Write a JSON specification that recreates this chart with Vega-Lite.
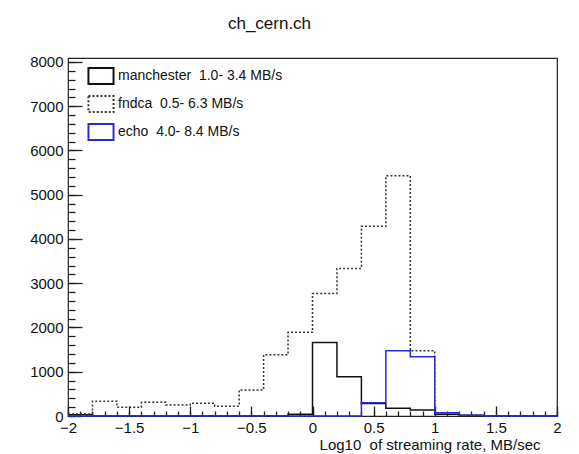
{
  "$schema": "https://vega.github.io/schema/vega-lite/v6.json",
  "width": 489,
  "height": 358,
  "autosize": {"type": "none"},
  "padding": {"left": 68, "top": 58, "right": 22, "bottom": 38},
  "background": "white",
  "title": {"text": "ch_cern.ch", "fontSize": 17, "font": "Liberation Sans", "fontWeight": "normal", "offset": 22, "dx": -43, "color": "#111"},
  "config": {
    "view": {"stroke": "#222", "strokeWidth": 1.2},
    "font": "Liberation Sans",
    "axis": {"domain": false, "grid": false, "labelColor": "#111", "labelFont": "Liberation Sans", "labelFontSize": 15, "labelFlush": false, "labelOverlap": false, "titleFont": "Liberation Sans", "titleFontWeight": "normal", "titleColor": "#111"}
  },
  "data": {"values": [
    {"series": "manchester", "x": -2.0, "count": 30},
    {"series": "manchester", "x": -1.8, "count": 0},
    {"series": "manchester", "x": -1.6, "count": 0},
    {"series": "manchester", "x": -1.4, "count": 0},
    {"series": "manchester", "x": -1.2, "count": 0},
    {"series": "manchester", "x": -1.0, "count": 0},
    {"series": "manchester", "x": -0.8, "count": 0},
    {"series": "manchester", "x": -0.6, "count": 0},
    {"series": "manchester", "x": -0.4, "count": 0},
    {"series": "manchester", "x": -0.2, "count": 40},
    {"series": "manchester", "x": 0.0, "count": 1663},
    {"series": "manchester", "x": 0.2, "count": 885},
    {"series": "manchester", "x": 0.4, "count": 280},
    {"series": "manchester", "x": 0.6, "count": 174},
    {"series": "manchester", "x": 0.8, "count": 136},
    {"series": "manchester", "x": 1.0, "count": 40},
    {"series": "manchester", "x": 1.2, "count": 10},
    {"series": "manchester", "x": 1.4, "count": 0},
    {"series": "manchester", "x": 1.6, "count": 0},
    {"series": "manchester", "x": 1.8, "count": 0},
    {"series": "manchester", "x": 2.0, "count": 0},
    {"series": "fndca", "x": -2.0, "count": 45},
    {"series": "fndca", "x": -1.8, "count": 333},
    {"series": "fndca", "x": -1.6, "count": 197},
    {"series": "fndca", "x": -1.4, "count": 310},
    {"series": "fndca", "x": -1.2, "count": 250},
    {"series": "fndca", "x": -1.0, "count": 288},
    {"series": "fndca", "x": -0.8, "count": 220},
    {"series": "fndca", "x": -0.6, "count": 590},
    {"series": "fndca", "x": -0.4, "count": 1383},
    {"series": "fndca", "x": -0.2, "count": 1890},
    {"series": "fndca", "x": 0.0, "count": 2767},
    {"series": "fndca", "x": 0.2, "count": 3334},
    {"series": "fndca", "x": 0.4, "count": 4287},
    {"series": "fndca", "x": 0.6, "count": 5428},
    {"series": "fndca", "x": 0.8, "count": 1474},
    {"series": "fndca", "x": 1.0, "count": 75},
    {"series": "fndca", "x": 1.2, "count": 25},
    {"series": "fndca", "x": 1.4, "count": 8},
    {"series": "fndca", "x": 1.6, "count": 0},
    {"series": "fndca", "x": 1.8, "count": 0},
    {"series": "fndca", "x": 2.0, "count": 0},
    {"series": "echo", "x": -2.0, "count": 0},
    {"series": "echo", "x": -1.8, "count": 0},
    {"series": "echo", "x": -1.6, "count": 0},
    {"series": "echo", "x": -1.4, "count": 0},
    {"series": "echo", "x": -1.2, "count": 0},
    {"series": "echo", "x": -1.0, "count": 0},
    {"series": "echo", "x": -0.8, "count": 0},
    {"series": "echo", "x": -0.6, "count": 0},
    {"series": "echo", "x": -0.4, "count": 0},
    {"series": "echo", "x": -0.2, "count": 0},
    {"series": "echo", "x": 0.0, "count": 0},
    {"series": "echo", "x": 0.2, "count": 0},
    {"series": "echo", "x": 0.4, "count": 302},
    {"series": "echo", "x": 0.6, "count": 1474},
    {"series": "echo", "x": 0.8, "count": 1338},
    {"series": "echo", "x": 1.0, "count": 75},
    {"series": "echo", "x": 1.2, "count": 15},
    {"series": "echo", "x": 1.4, "count": 0},
    {"series": "echo", "x": 1.6, "count": 0},
    {"series": "echo", "x": 1.8, "count": 0},
    {"series": "echo", "x": 2.0, "count": 0}
  ]},
  "layer": [
    {
      "mark": {"type": "line", "interpolate": "step-after", "strokeWidth": 1.5},
      "encoding": {
        "x": {"field": "x", "type": "quantitative",
          "scale": {"domain": [-2, 2], "nice": false, "zero": false},
          "axis": {"orient": "bottom", "offset": -10, "values": [-2, -1.5, -1, -0.5, 0, 0.5, 1, 1.5, 2], "format": "~g", "ticks": true, "tickColor": "#222222", "tickWidth": 1.3, "tickSize": 10, "labelPadding": 4,
            "title": "Log10\u00a0 of streaming rate, MB/sec", "titleFontSize": 15, "titleAlign": "right", "titleAnchor": null, "titleX": 472, "titleY": 43, "titleBaseline": "alphabetic"}},
        "y": {"field": "count", "type": "quantitative",
          "scale": {"domain": [0, 8090], "nice": false},
          "axis": {"orient": "left", "offset": -14, "values": [0, 1000, 2000, 3000, 4000, 5000, 6000, 7000, 8000], "ticks": true, "tickColor": "#222222", "tickWidth": 1.3, "tickSize": 14, "labelPadding": 5, "format": "d", "title": null}},
        "color": {"field": "series", "type": "nominal",
          "scale": {"domain": ["manchester", "fndca", "echo"], "range": ["#111111", "#333333", "#2a2ad6"]},
          "legend": {"orient": "none", "legendX": 21, "legendY": 6, "title": null, "labelLimit": 0,
            "labelExpr": "datum.label == 'manchester' ? 'manchester\u00a0 1.0- 3.4 MB/s' : datum.label == 'fndca' ? 'fndca\u00a0 0.5- 6.3 MB/s' : 'echo\u00a0 4.0- 8.4 MB/s'",
            "symbolType": "M-1.14,-0.73H1.14V0.73H-1.14Z", "symbolSize": 484, "symbolStrokeWidth": 2, "symbolFillColor": "transparent",
            "labelFontSize": 14, "labelFont": "Liberation Sans", "labelColor": "#111", "labelOffset": 5, "rowPadding": 2, "padding": 0}},
        "strokeDash": {"field": "series", "type": "nominal",
          "scale": {"domain": ["manchester", "fndca", "echo"], "range": [[1, 0], [2, 2], [1, 0]]},
          "legend": {"orient": "none", "legendX": 21, "legendY": 6, "title": null, "labelLimit": 0,
            "labelExpr": "datum.label == 'manchester' ? 'manchester\u00a0 1.0- 3.4 MB/s' : datum.label == 'fndca' ? 'fndca\u00a0 0.5- 6.3 MB/s' : 'echo\u00a0 4.0- 8.4 MB/s'",
            "symbolType": "M-1.14,-0.73H1.14V0.73H-1.14Z", "symbolSize": 484, "symbolStrokeWidth": 2, "symbolFillColor": "transparent",
            "labelFontSize": 14, "labelFont": "Liberation Sans", "labelColor": "#111", "labelOffset": 5, "rowPadding": 2, "padding": 0}}
      }
    },
    {
      "mark": {"type": "point", "opacity": 0},
      "encoding": {
        "x": {"field": "x", "type": "quantitative",
          "axis": {"orient": "bottom", "offset": -5, "values": [-2, -1.9, -1.8, -1.7, -1.6, -1.5, -1.4, -1.3, -1.2, -1.1, -1, -0.9, -0.8, -0.7, -0.6, -0.5, -0.4, -0.3, -0.2, -0.1, 0, 0.1, 0.2, 0.3, 0.4, 0.5, 0.6, 0.7, 0.8, 0.9, 1, 1.1, 1.2, 1.3, 1.4, 1.5, 1.6, 1.7, 1.8, 1.9, 2], "ticks": true, "tickColor": "#222222", "tickWidth": 1.3, "tickSize": 5, "labels": false, "title": null}},
        "y": {"field": "count", "type": "quantitative",
          "axis": {"orient": "left", "offset": -7, "values": [0, 200, 400, 600, 800, 1000, 1200, 1400, 1600, 1800, 2000, 2200, 2400, 2600, 2800, 3000, 3200, 3400, 3600, 3800, 4000, 4200, 4400, 4600, 4800, 5000, 5200, 5400, 5600, 5800, 6000, 6200, 6400, 6600, 6800, 7000, 7200, 7400, 7600, 7800, 8000], "ticks": true, "tickColor": "#222222", "tickWidth": 1.3, "tickSize": 7, "labels": false, "title": null}}
      }
    }
  ],
  "resolve": {"axis": {"x": "independent", "y": "independent"}}
}
